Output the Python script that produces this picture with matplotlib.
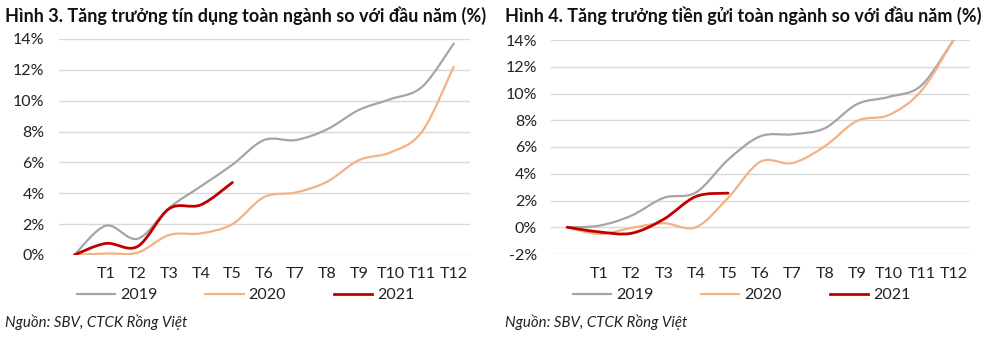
import matplotlib
matplotlib.use("Agg")
import matplotlib.pyplot as plt
from matplotlib.path import Path
from matplotlib.patches import PathPatch
from matplotlib.lines import Line2D
import numpy as np

plt.rcParams['font.family'] = ['Lato', 'DejaVu Sans']

# ---------------------------------------------------------------- data
months = ['', 'T1', 'T2', 'T3', 'T4', 'T5', 'T6', 'T7', 'T8', 'T9', 'T10', 'T11', 'T12']
years = ['2019', '2020', '2021']

credit_2019 = [0, 1.9, 1.05, 3.05, 4.45, 5.85, 7.45, 7.45, 8.15, 9.4, 10.1, 10.9, 13.7]
credit_2020 = [0, 0.1, 0.15, 1.3, 1.4, 2.0, 3.75, 4.05, 4.75, 6.15, 6.65, 8.0, 12.2]
credit_2021 = [0, 0.75, 0.55, 3.0, 3.25, 4.7]

deposit_2019 = [0, 0.12, 0.87, 2.2, 2.6, 5.05, 6.8, 6.95, 7.4, 9.2, 9.75, 10.6, 14.0]
deposit_2020 = [0, -0.5, -0.05, 0.3, 0.0, 2.2, 4.9, 4.8, 6.05, 7.95, 8.4, 10.2, 14.0]
deposit_2021 = [0, -0.35, -0.45, 0.6, 2.3, 2.55]

colors = ['#A5A5A5', '#F4B183', '#C00000']
widths = [1.6, 1.6, 2.0]

title_left = 'Hình 3. Tăng trưởng tín dụng toàn ngành so với đầu năm (%)'
title_right = 'Hình 4. Tăng trưởng tiền gửi toàn ngành so với đầu năm (%)'
source = 'Nguồn: SBV, CTCK Rồng Việt'


def smooth_path(ys):
    # Excel style smoothed line: bezier through points, tension 1/6
    xs = np.arange(len(ys), dtype=float)
    ys = np.asarray(ys, dtype=float)
    n = len(xs)
    verts = [(xs[0], ys[0])]
    codes = [Path.MOVETO]
    for i in range(n - 1):
        p0 = (xs[max(i - 1, 0)], ys[max(i - 1, 0)])
        p1 = (xs[i], ys[i])
        p2 = (xs[i + 1], ys[i + 1])
        p3 = (xs[min(i + 2, n - 1)], ys[min(i + 2, n - 1)])
        c1 = (p1[0] + (p2[0] - p0[0]) / 6, p1[1] + (p2[1] - p0[1]) / 6)
        c2 = (p2[0] - (p3[0] - p1[0]) / 6, p2[1] - (p3[1] - p1[1]) / 6)
        verts += [c1, c2, p2]
        codes += [Path.CURVE4] * 3
    return Path(verts, codes)


def draw_panel(ax, series, ylo, yhi, leg_y):
    for ys, c, w in zip(series, colors, widths):
        ax.add_patch(PathPatch(smooth_path(ys), facecolor='none', edgecolor=c,
                               lw=w, capstyle='round', joinstyle='round', zorder=3))
    ax.set_xlim(-0.5, 12.5)
    ax.set_ylim(ylo, yhi)
    ticks = np.arange(ylo, yhi + 0.1, 2)
    ax.set_yticks(ticks)
    ax.set_yticklabels(['%d%%' % t for t in ticks])
    ax.set_xticks(range(len(months)))
    ax.set_xticklabels(months)
    ax.grid(axis='y', color='#D9D9D9', lw=1)
    ax.set_axisbelow(True)
    for s in ax.spines.values():
        s.set_visible(False)
    ax.tick_params(length=0, labelsize=11.5, colors='#222222')
    ax.tick_params(axis='x', pad=9)
    ax.tick_params(axis='y', pad=10)
    handles = [Line2D([], [], color=c, lw=w) for c, w in zip(colors, widths)]
    ax.legend(handles, years, loc='center', bbox_to_anchor=(0.455, leg_y),
              ncol=3, frameon=False, fontsize=11.5, handlelength=2.4,
              columnspacing=3.0, handletextpad=0.3, labelcolor='#222222')


fig = plt.figure(figsize=(9.9, 3.39), dpi=100)
ax1 = fig.add_axes([58.5 / 990, 1 - 255 / 339, 411 / 990, 216 / 339])
ax2 = fig.add_axes([551 / 990, 1 - 254 / 339, 418.6 / 990, 214 / 339])

draw_panel(ax1, [credit_2019, credit_2020, credit_2021], 0, 14, -40 / 216)
draw_panel(ax2, [deposit_2019, deposit_2020, deposit_2021], -2, 14, -41 / 214)

fig.text(5 / 990, 1 - 16 / 339, title_left, fontsize=13, fontweight='bold',
         va='center', ha='left', color='#111111')
fig.text(505 / 990, 1 - 16 / 339, title_right, fontsize=13, fontweight='bold',
         va='center', ha='left', color='#111111')
fig.text(5 / 990, 1 - 322 / 339, source, fontsize=10.8, style='italic',
         va='center', ha='left', color='#222222')
fig.text(505 / 990, 1 - 322 / 339, source, fontsize=10.8, style='italic',
         va='center', ha='left', color='#222222')

fig.savefig('out.png', dpi=100)
